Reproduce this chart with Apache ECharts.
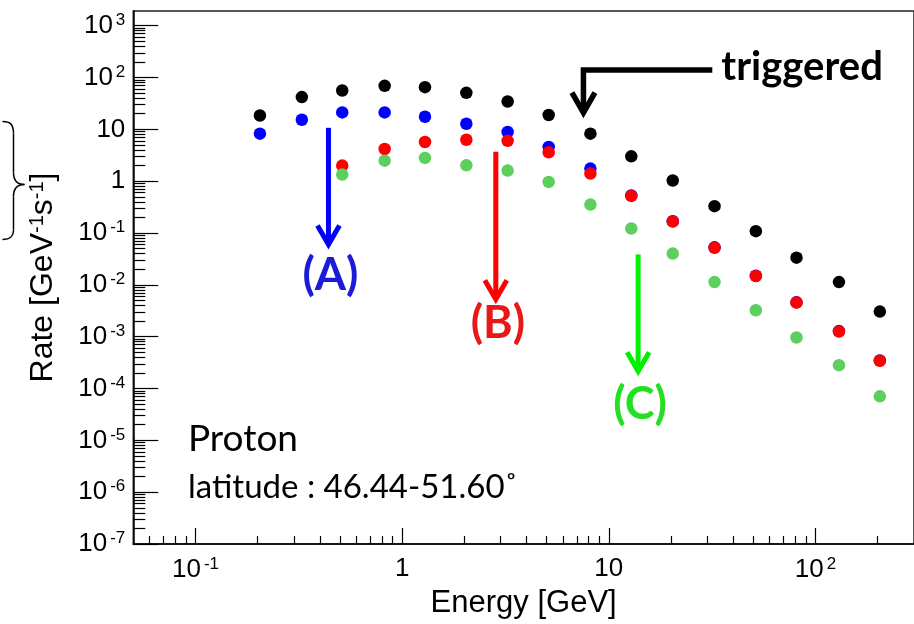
<!DOCTYPE html>
<html><head><meta charset="utf-8">
<script src="https://cdn.jsdelivr.net/npm/echarts@6/dist/echarts.min.js"></script>
<style>html,body{margin:0;padding:0;background:#fff}#c{width:914px;height:624px}</style>
</head><body><div id="c"></div>
<script>
// ---- data ----
const energy    = [0.205, 0.327, 0.513, 0.823, 1.29, 2.045, 3.24, 5.12, 8.15, 12.85, 20.4, 32.5, 51.5, 81, 130, 205];
const triggered = [18.5, 41.9, 56.1, 69.1, 65.2, 50.7, 34.5, 18.9, 8.24, 3.01, 1.03, 0.329, 0.1085, 0.0334, 0.0113, 0.00305];
const rateA     = [8.24, 15.3, 21.2, 21.2, 17.5, 12.8, 8.88, 4.57, 1.75, 0.53, 0.169, 0.053, 0.015, 0.0046, 0.00128, 0.000348];
const rateB     = [null, null, 2.0, 4.18, 5.7, 6.3, 6.0, 3.6, 1.40, 0.52, 0.167, 0.052, 0.0148, 0.00454, 0.00126, 0.000342];
const rateC     = [null, null, 1.34, 2.49, 2.81, 2.02, 1.60, 0.968, 0.354, 0.122, 0.0401, 0.0113, 0.00323, 0.000964, 0.000282, 0.0000705];

const xMajor = [0.1, 1, 10, 100];
const yMajor = [1e-7, 1e-6, 1e-5, 1e-4, 1e-3, 1e-2, 1e-1, 1, 10, 100, 1000];
const minorSteps = [2, 3, 4, 5, 6, 7, 8, 9];
const xRange = [0.05, 300];
const yRange = [1e-7, 1919];

// annotation anchors (data space)
const arrowNames = ['(A)', '(B)', '(C)'];
const arrowX     = [0.44, 2.84, 13.87];
const arrowTop   = [10.7, 3.7, 0.0386];
const arrowTip   = [0.0597, 0.00526, 0.000216];
const arrowLabY  = [0.0152, 0.0018, 0.000050];
const trigArrow  = [31.7, 140, 7.54, 20.9]; // xStart, yLevel, xCorner, yTip

// ---- styles ----
const arrowColors = ['#0000ff', '#ff0000', '#00f000'];
const labelColors = ['#1c1cd8', '#e81818', '#22e022'];
const AXFONT = 'Liberation Sans';

function minorValues(range) {
  const out = [];
  for (let d = -8; d <= 3; d++) {
    for (const m of minorSteps) {
      const v = m * Math.pow(10, d);
      if (v > range[0] && v < range[1]) out.push(v);
    }
  }
  return out;
}
function fmtPow(v) {
  const e = Math.round(Math.log10(v));
  if (e === 0) return '1';
  if (e === 1) return '10';
  return '{b|10}{s|' + e + '}';
}
const labelRich = {
  b: {fontSize: 26, fontFamily: AXFONT, color: '#000', lineHeight: 28},
  s: {fontSize: 17, fontFamily: AXFONT, color: '#000', verticalAlign: 'top', lineHeight: 18, padding: [0, 0, 0, 3]}
};

const chart = echarts.init(document.getElementById('c'), null, {renderer: 'canvas'});

function pairs(vals) {
  const out = [];
  vals.forEach((v, i) => { if (v != null) out.push([energy[i], v]); });
  return out;
}
function bez(x1, y1, cx1, cy1, cx2, cy2, x2, y2) {
  return {type: 'bezierCurve', shape: {x1: x1, y1: y1, cpx1: cx1, cpy1: cy1, cpx2: cx2, cpy2: cy2, x2: x2, y2: y2},
    style: {stroke: '#000', fill: null, lineWidth: 1.5}};
}
function seg(x1, y1, x2, y2) {
  return {type: 'line', shape: {x1: x1, y1: y1, x2: x2, y2: y2}, style: {stroke: '#000', lineWidth: 1.5}};
}
function dots(name, vals, color, z) {
  return {name: name, type: 'scatter', symbol: 'circle', symbolSize: 12.5,
    itemStyle: {color: color, opacity: 1}, data: pairs(vals), z: z};
}

const option = {
  animation: false,
  backgroundColor: '#fff',
  grid: {left: 133.3, top: 11, width: 787.1, height: 534.3, show: true, borderColor: '#222', borderWidth: 1.5, backgroundColor: 'transparent'},
  xAxis: [
    {
      type: 'log', min: xRange[0], max: xRange[1], position: 'bottom',
      name: 'Energy [GeV]', nameLocation: 'middle', nameGap: 44,
      nameTextStyle: {fontFamily: AXFONT, fontSize: 31, color: '#000'},
      axisLine: {show: true, lineStyle: {color: '#000', width: 1.5}},
      axisTick: {show: true, inside: true, length: 16, customValues: xMajor, lineStyle: {color: '#000', width: 1.2}},
      axisLabel: {show: true, customValues: xMajor, formatter: fmtPow, margin: 12, fontSize: 26, fontFamily: AXFONT, color: '#000', rich: labelRich},
      splitLine: {show: false}, minorTick: {show: false}
    },
    {
      type: 'log', min: xRange[0], max: xRange[1], position: 'bottom',
      axisLine: {show: false},
      axisTick: {show: true, inside: true, length: 8, customValues: minorValues(xRange), lineStyle: {color: '#000', width: 1.2}},
      axisLabel: {show: false}, splitLine: {show: false}
    }
  ],
  yAxis: [
    {
      type: 'log', min: yRange[0], max: yRange[1], position: 'left',
      name: 'Rate [GeV{s|-1}s{s|-1}]', nameLocation: 'middle', nameGap: 74, nameRotate: 90,
      nameTextStyle: {fontFamily: AXFONT, fontSize: 32, color: '#000',
        rich: {s: {fontFamily: AXFONT, fontSize: 20, color: '#000', verticalAlign: 'top', lineHeight: 20}}},
      axisLine: {show: true, lineStyle: {color: '#000', width: 1.5}},
      axisTick: {show: true, inside: true, length: 25, customValues: yMajor, lineStyle: {color: '#000', width: 1.2}},
      axisLabel: {show: true, customValues: yMajor, formatter: fmtPow, margin: 8, fontSize: 26, fontFamily: AXFONT, color: '#000', rich: labelRich},
      splitLine: {show: false}, minorTick: {show: false}
    },
    {
      type: 'log', min: yRange[0], max: yRange[1], position: 'left',
      axisLine: {show: false},
      axisTick: {show: true, inside: true, length: 12, customValues: minorValues(yRange), lineStyle: {color: '#000', width: 1.2}},
      axisLabel: {show: false}, splitLine: {show: false}
    }
  ],
  series: [
    dots('triggered', triggered, '#000000', 3),
    dots('A', rateA, '#0000ff', 4),
    dots('B', rateB, '#ff0000', 5),
    dots('C', rateC, '#5ccf5c', 6),
    {
      name: 'arrows', type: 'custom', z: 10, silent: true,
      data: arrowX.map((x, i) => [x, arrowTop[i], arrowTip[i], arrowLabY[i]]),
      renderItem(params, api) {
        const i = params.dataIndex;
        const top = api.coord([api.value(0), api.value(1)]);
        const tip = api.coord([api.value(0), api.value(2)]);
        const lab = api.coord([api.value(0), api.value(3)]);
        const c = arrowColors[i];
        return {type: 'group', children: [
          {type: 'line', shape: {x1: top[0], y1: top[1], x2: tip[0], y2: tip[1] - 3}, style: {stroke: c, lineWidth: 5}},
          {type: 'polyline', shape: {points: [[tip[0] - 11, tip[1] - 19], [tip[0], tip[1]], [tip[0] + 11, tip[1] - 19]]},
            style: {stroke: c, lineWidth: 5, fill: null, lineJoin: 'miter'}},
          {type: 'text', x: lab[0] + 2, y: lab[1], style: {text: arrowNames[i], fill: labelColors[i], font: 'bold 45px Lato',
            align: 'center', verticalAlign: 'middle', textAlign: 'center', textVerticalAlign: 'middle'}}
        ]};
      }
    },
    {
      name: 'trigArrow', type: 'custom', z: 10, silent: true,
      data: [trigArrow],
      renderItem(params, api) {
        const p0 = api.coord([api.value(0), api.value(1)]);
        const p1 = api.coord([api.value(2), api.value(1)]);
        const p2 = api.coord([api.value(2), api.value(3)]);
        return {type: 'group', children: [
          {type: 'polyline', shape: {points: [p0, p1, [p2[0], p2[1] - 3]]}, style: {stroke: '#000', lineWidth: 5.5, fill: null, lineJoin: 'miter'}},
          {type: 'polyline', shape: {points: [[p2[0] - 11.5, p2[1] - 20], [p2[0], p2[1]], [p2[0] + 11.5, p2[1] - 20]]},
            style: {stroke: '#000', lineWidth: 5.5, fill: null, lineJoin: 'miter'}},
          {type: 'text', x: p0[0] + 9, y: p0[1] - 3, style: {text: 'triggered', fill: '#000', font: 'bold 40px Lato',
            align: 'left', verticalAlign: 'middle', textAlign: 'left', textVerticalAlign: 'middle'}}
        ]};
      }
    }
  ],
  graphic: [
    {type: 'text', left: 188, top: 421, style: {text: 'Proton', fill: '#000', font: '37px Lato'}},
    {type: 'text', left: 188, top: 471, style: {text: 'latitude : 46.44-51.60˚', fill: '#000', font: '33px Lato'}},
    {type: 'group', left: 0, top: 119, children: [
      bez(0, 0, 8, 0, 11, 3, 11, 12),
      seg(11, 12, 11, 51),
      bez(11, 51, 11, 59, 14, 63, 22, 63),
      bez(22, 63, 14, 63, 11, 67, 11, 75),
      seg(11, 75, 11, 108),
      bez(11, 108, 11, 115, 8, 118, 0, 118)
    ]}
  ]
};
chart.setOption(option);
</script>
</body></html>
